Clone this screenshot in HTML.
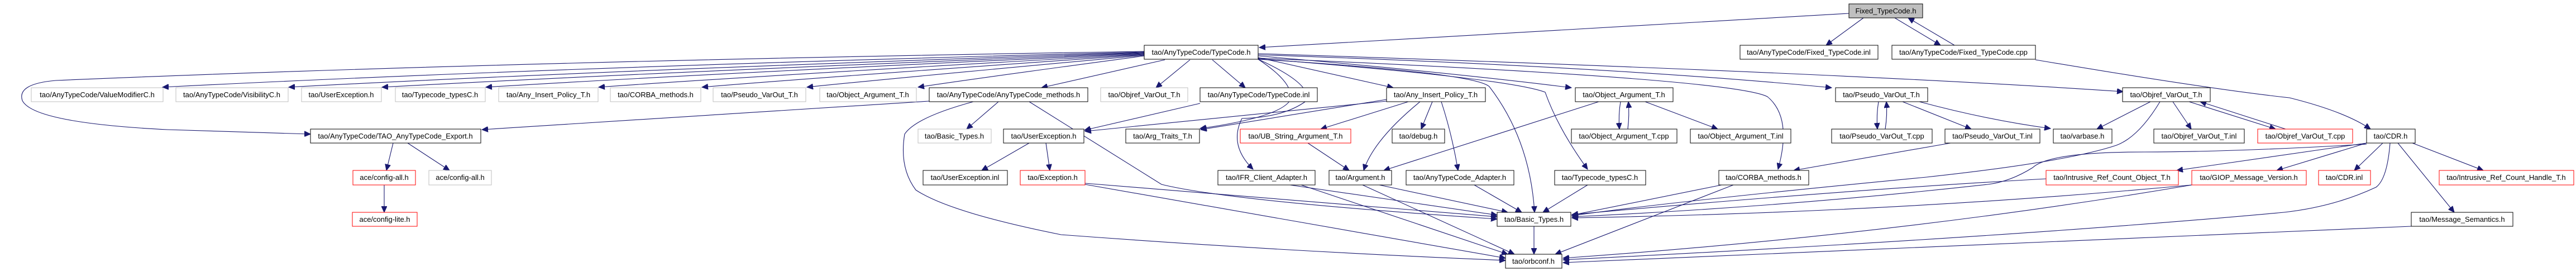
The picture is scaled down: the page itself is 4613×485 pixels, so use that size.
<!DOCTYPE html>
<html><head><meta charset="utf-8"><style>
html,body{margin:0;padding:0;background:#fff;}
svg{display:block}
text{font-family:"Liberation Sans",sans-serif;font-size:13px;text-anchor:middle;fill:#000}
.e{fill:none;stroke:#191970;stroke-width:1.1}
.k{fill:#fff;stroke:#000;stroke-width:1}
.g{fill:#fff;stroke:#bfbfbf;stroke-width:1}
.r{fill:#fff;stroke:#ff0000;stroke-width:1}
</style></head><body>
<svg width="4613" height="485" viewBox="0 0 4613 485" xmlns="http://www.w3.org/2000/svg">
<defs><marker id="a" markerUnits="userSpaceOnUse" markerWidth="12" markerHeight="10" refX="11" refY="5" orient="auto"><path d="M0,0 L11,5 L0,10 z" fill="#191970" stroke="#191970"/></marker></defs>
<g class="edges">
<!-- Fixed_TypeCode.h -->
<path class="e" marker-end="url(#a)" d="M3311,24 L2255,85"/>
<path class="e" marker-end="url(#a)" d="M3337,32 L3270,81"/>
<path class="e" marker-end="url(#a)" d="M3393,32 L3475,81"/>
<path class="e" marker-end="url(#a)" d="M3500,81 L3417,32"/>
<path class="e" marker-end="url(#a)" d="M3645,107 Q3960,160 4100,175 Q4200,200 4245,231"/>
<!-- TypeCode.h to left row2 -->
<path class="e" marker-end="url(#a)" d="M2049,93 Q1000,120 291,156"/>
<path class="e" marker-end="url(#a)" d="M2049,94 Q1100,125 517,156"/>
<path class="e" marker-end="url(#a)" d="M2049,95 Q1200,128 684,156"/>
<path class="e" marker-end="url(#a)" d="M2049,96 Q1300,130 870,156"/>
<path class="e" marker-end="url(#a)" d="M2049,97 Q1400,133 1072,156"/>
<path class="e" marker-end="url(#a)" d="M2049,98 Q1500,136 1257,156"/>
<path class="e" marker-end="url(#a)" d="M2049,99 Q1600,140 1445,156"/>
<path class="e" marker-end="url(#a)" d="M2049,100 Q1750,140 1644,156"/>
<path class="e" marker-end="url(#a)" d="M2049,92 Q900,110 100,144 Q30,150 40,180 Q60,220 300,232 L556,240"/>
<path class="e" marker-end="url(#a)" d="M2086,107 L1865,157"/>
<path class="e" marker-end="url(#a)" d="M2131,107 L2070,157"/>
<path class="e" marker-end="url(#a)" d="M2171,107 L2230,157"/>
<path class="e" marker-end="url(#a)" d="M2253,103 L2495,157"/>
<path class="e" marker-end="url(#a)" d="M2253,100 Q2600,130 2814,157"/>
<path class="e" marker-end="url(#a)" d="M2253,98 Q2900,120 3280,157"/>
<path class="e" marker-end="url(#a)" d="M2253,96 Q3300,130 3802,164"/>
<path class="e" marker-end="url(#a)" d="M2253,104 Q3100,140 3165,173 Q3210,210 3184,303"/>
<path class="e" marker-end="url(#a)" d="M2253,105 Q2700,140 2767,165 Q2790,230 2843,303"/>
<path class="e" marker-end="url(#a)" d="M2253,106 Q2640,130 2667,155 Q2740,250 2748,380"/>
<path class="e" marker-end="url(#a)" d="M2253,106 Q2320,150 2310,180 Q2290,210 2149,230"/>
<path class="e" marker-end="url(#a)" d="M2253,106 Q2350,150 2340,180 Q2300,210 2224,212 Q2200,260 2244,303"/>
<path class="e" marker-end="url(#a)" d="M2149,185 L1942,233"/>
<path class="e" marker-end="url(#a)" d="M2483,178 L2150,232"/>
<path class="e" marker-end="url(#a)" d="M2483,181 L1943,235"/>
<!-- AnyTypeCode_methods -->
<path class="e" marker-end="url(#a)" d="M1664,181 L863,232"/>
<path class="e" marker-end="url(#a)" d="M1788,182 L1731,231"/>
<path class="e" marker-end="url(#a)" d="M1743,182 Q1640,210 1620,240 Q1610,300 1640,340 Q1700,380 1900,420 Q2300,450 2696,466"/>
<path class="e" marker-end="url(#a)" d="M1843,182 Q2000,280 2080,330 Q2200,360 2681,392"/>
<!-- UserException -->
<path class="e" marker-end="url(#a)" d="M1843,256 L1758,305"/>
<path class="e" marker-end="url(#a)" d="M1873,256 L1880,305"/>
<path class="e" marker-end="url(#a)" d="M1943,328 L2681,388"/>
<path class="e" marker-end="url(#a)" d="M1943,330 L2696,462"/>
<!-- IFR -->
<path class="e" marker-end="url(#a)" d="M2310,331 L2681,385"/>
<path class="e" marker-end="url(#a)" d="M2330,331 L2700,455"/>
<!-- Any_Insert_Policy -->
<path class="e" marker-end="url(#a)" d="M2522,182 L2365,231"/>
<path class="e" marker-end="url(#a)" d="M2565,182 L2545,231"/>
<path class="e" marker-end="url(#a)" d="M2543,182 Q2460,250 2442,305"/>
<path class="e" marker-end="url(#a)" d="M2581,182 Q2600,240 2611,305"/>
<path class="e" marker-end="url(#a)" d="M2342,256 L2416,305"/>
<!-- Object_Argument_T -->
<path class="e" marker-end="url(#a)" d="M2863,182 L2478,305"/>
<path class="e" marker-end="url(#a)" d="M2902,182 Q2898,205 2900,231"/>
<path class="e" marker-end="url(#a)" d="M2915,231 Q2918,205 2916,182"/>
<path class="e" marker-end="url(#a)" d="M2946,182 L3076,231"/>
<!-- Pseudo_VarOut_T -->
<path class="e" marker-end="url(#a)" d="M3364,182 Q3360,205 3362,231"/>
<path class="e" marker-end="url(#a)" d="M3376,231 Q3380,205 3378,182"/>
<path class="e" marker-end="url(#a)" d="M3407,182 L3530,231"/>
<path class="e" marker-end="url(#a)" d="M3437,182 Q3560,215 3672,230"/>
<path class="e" marker-end="url(#a)" d="M3493,256 L3212,305"/>
<!-- Objref_VarOut_T -->
<path class="e" marker-end="url(#a)" d="M3851,182 L3755,231"/>
<path class="e" marker-end="url(#a)" d="M3891,182 L3924,231"/>
<path class="e" marker-end="url(#a)" d="M3920,182 L4075,231"/>
<path class="e" marker-end="url(#a)" d="M4093,231 L3940,182"/>
<path class="e" marker-end="url(#a)" d="M3868,182 Q3830,245 3790,260 Q3700,290 3450,317 Q3000,360 2815,386"/>
<!-- CDR.h -->
<path class="e" marker-end="url(#a)" d="M4238,256 L3898,305"/>
<path class="e" marker-end="url(#a)" d="M4238,256 L4077,305"/>
<path class="e" marker-end="url(#a)" d="M4267,256 L4216,305"/>
<path class="e" marker-end="url(#a)" d="M4320,256 L4447,305"/>
<path class="e" marker-end="url(#a)" d="M4294,256 L4395,380"/>
<path class="e" marker-end="url(#a)" d="M4280,256 Q4275,320 4255,335 Q4180,370 4090,380 Q3600,425 2799,465"/>
<path class="e" marker-end="url(#a)" d="M4238,258 Q4000,272 3840,272 Q3670,272 3640,300 Q3600,325 3560,330 Q3200,370 2815,388"/>
<path class="e" marker-end="url(#a)" d="M3664,320 Q3300,340 2815,384"/>
<path class="e" marker-end="url(#a)" d="M3925,331 Q3400,380 2815,390"/>
<path class="e" marker-end="url(#a)" d="M3925,331 Q3400,420 2799,462"/>
<path class="e" marker-end="url(#a)" d="M4318,405 L2799,470"/>
<!-- CORBA_methods -->
<path class="e" marker-end="url(#a)" d="M3083,331 L2815,385"/>
<path class="e" marker-end="url(#a)" d="M3104,331 L2785,455"/>
<path class="e" marker-end="url(#a)" d="M2843,331 L2763,380"/>
<path class="e" marker-end="url(#a)" d="M2640,331 L2725,380"/>
<path class="e" marker-end="url(#a)" d="M2470,331 L2700,380"/>
<path class="e" marker-end="url(#a)" d="M2440,331 L2712,455"/>
<path class="e" marker-end="url(#a)" d="M2747,405 L2747,455"/>
<!-- Export -->
<path class="e" marker-end="url(#a)" d="M704,256 L692,305"/>
<path class="e" marker-end="url(#a)" d="M730,256 L805,305"/>
<path class="e" marker-end="url(#a)" d="M688,331 L688,380"/>
</g>
<g class="nodes">
<rect x="3311" y="7" width="132" height="25" fill="#bfbfbf" stroke="#000"/><text x="3377" y="24">Fixed_TypeCode.h</text>
<rect class="k" x="2049" y="81" width="204" height="25"/><text x="2151" y="98">tao/AnyTypeCode/TypeCode.h</text>
<rect class="k" x="3116" y="81" width="247" height="25"/><text x="3239" y="98">tao/AnyTypeCode/Fixed_TypeCode.inl</text>
<rect class="k" x="3388" y="81" width="257" height="25"/><text x="3516" y="98">tao/AnyTypeCode/Fixed_TypeCode.cpp</text>

<rect class="g" x="56" y="157" width="236" height="25"/><text x="174" y="174">tao/AnyTypeCode/ValueModifierC.h</text>
<rect class="g" x="315" y="157" width="201" height="25"/><text x="415" y="174">tao/AnyTypeCode/VisibilityC.h</text>
<rect class="g" x="540" y="157" width="143" height="25"/><text x="611" y="174">tao/UserException.h</text>
<rect class="g" x="708" y="157" width="161" height="25"/><text x="788" y="174">tao/Typecode_typesC.h</text>
<rect class="g" x="893" y="157" width="178" height="25"/><text x="982" y="174">tao/Any_Insert_Policy_T.h</text>
<rect class="g" x="1093" y="157" width="162" height="25"/><text x="1174" y="174">tao/CORBA_methods.h</text>
<rect class="g" x="1277" y="157" width="166" height="25"/><text x="1360" y="174">tao/Pseudo_VarOut_T.h</text>
<rect class="g" x="1468" y="157" width="173" height="25"/><text x="1554" y="174">tao/Object_Argument_T.h</text>
<rect class="k" x="1664" y="157" width="284" height="25"/><text x="1806" y="174">tao/AnyTypeCode/AnyTypeCode_methods.h</text>
<rect class="g" x="1971" y="157" width="156" height="25"/><text x="2049" y="174">tao/Objref_VarOut_T.h</text>
<rect class="k" x="2149" y="157" width="210" height="25"/><text x="2254" y="174">tao/AnyTypeCode/TypeCode.inl</text>
<rect class="k" x="2483" y="157" width="177" height="25"/><text x="2571" y="174">tao/Any_Insert_Policy_T.h</text>
<rect class="k" x="2821" y="157" width="175" height="25"/><text x="2908" y="174">tao/Object_Argument_T.h</text>
<rect class="k" x="3287" y="157" width="165" height="25"/><text x="3369" y="174">tao/Pseudo_VarOut_T.h</text>
<rect class="k" x="3801" y="157" width="157" height="25"/><text x="3879" y="174">tao/Objref_VarOut_T.h</text>

<rect class="k" x="556" y="231" width="305" height="25"/><text x="708" y="248">tao/AnyTypeCode/TAO_AnyTypeCode_Export.h</text>
<rect class="g" x="1644" y="231" width="131" height="25"/><text x="1709" y="248">tao/Basic_Types.h</text>
<rect class="k" x="1797" y="231" width="144" height="25"/><text x="1869" y="248">tao/UserException.h</text>
<rect class="k" x="2016" y="231" width="132" height="25"/><text x="2082" y="248">tao/Arg_Traits_T.h</text>
<rect class="r" x="2221" y="231" width="198" height="25"/><text x="2320" y="248">tao/UB_String_Argument_T.h</text>
<rect class="k" x="2493" y="231" width="94" height="25"/><text x="2540" y="248">tao/debug.h</text>
<rect class="k" x="2814" y="231" width="189" height="25"/><text x="2908" y="248">tao/Object_Argument_T.cpp</text>
<rect class="k" x="3027" y="231" width="180" height="25"/><text x="3117" y="248">tao/Object_Argument_T.inl</text>
<rect class="k" x="3280" y="231" width="180" height="25"/><text x="3370" y="248">tao/Pseudo_VarOut_T.cpp</text>
<rect class="k" x="3483" y="231" width="170" height="25"/><text x="3568" y="248">tao/Pseudo_VarOut_T.inl</text>
<rect class="k" x="3677" y="231" width="105" height="25"/><text x="3729" y="248">tao/varbase.h</text>
<rect class="k" x="3857" y="231" width="162" height="25"/><text x="3938" y="248">tao/Objref_VarOut_T.inl</text>
<rect class="r" x="4043" y="231" width="170" height="25"/><text x="4128" y="248">tao/Objref_VarOut_T.cpp</text>
<rect class="k" x="4238" y="231" width="87" height="25"/><text x="4281" y="248">tao/CDR.h</text>

<rect class="r" x="632" y="305" width="112" height="26"/><text x="688" y="322">ace/config-all.h</text>
<rect class="g" x="768" y="305" width="112" height="26"/><text x="824" y="322">ace/config-all.h</text>
<rect class="k" x="1653" y="305" width="151" height="26"/><text x="1728" y="322">tao/UserException.inl</text>
<rect class="r" x="1827" y="305" width="116" height="26"/><text x="1885" y="322">tao/Exception.h</text>
<rect class="k" x="2181" y="305" width="174" height="26"/><text x="2268" y="322">tao/IFR_Client_Adapter.h</text>
<rect class="k" x="2380" y="305" width="112" height="26"/><text x="2436" y="322">tao/Argument.h</text>
<rect class="k" x="2518" y="305" width="193" height="26"/><text x="2614" y="322">tao/AnyTypeCode_Adapter.h</text>
<rect class="k" x="2784" y="305" width="163" height="26"/><text x="2865" y="322">tao/Typecode_typesC.h</text>
<rect class="k" x="3078" y="305" width="161" height="26"/><text x="3158" y="322">tao/CORBA_methods.h</text>
<rect class="r" x="3664" y="305" width="237" height="26"/><text x="3782" y="322">tao/Intrusive_Ref_Count_Object_T.h</text>
<rect class="r" x="3925" y="305" width="205" height="26"/><text x="4027" y="322">tao/GIOP_Message_Version.h</text>
<rect class="r" x="4152" y="305" width="93" height="26"/><text x="4198" y="322">tao/CDR.inl</text>
<rect class="r" x="4368" y="305" width="241" height="26"/><text x="4488" y="322">tao/Intrusive_Ref_Count_Handle_T.h</text>

<rect class="r" x="631" y="380" width="116" height="25"/><text x="689" y="397">ace/config-lite.h</text>
<rect class="k" x="2681" y="380" width="132" height="25"/><text x="2747" y="397">tao/Basic_Types.h</text>
<rect class="k" x="4318" y="380" width="182" height="25"/><text x="4409" y="397">tao/Message_Semantics.h</text>

<rect class="k" x="2696" y="455" width="101" height="25"/><text x="2746" y="472">tao/orbconf.h</text>
</g>
</svg>
</body></html>
